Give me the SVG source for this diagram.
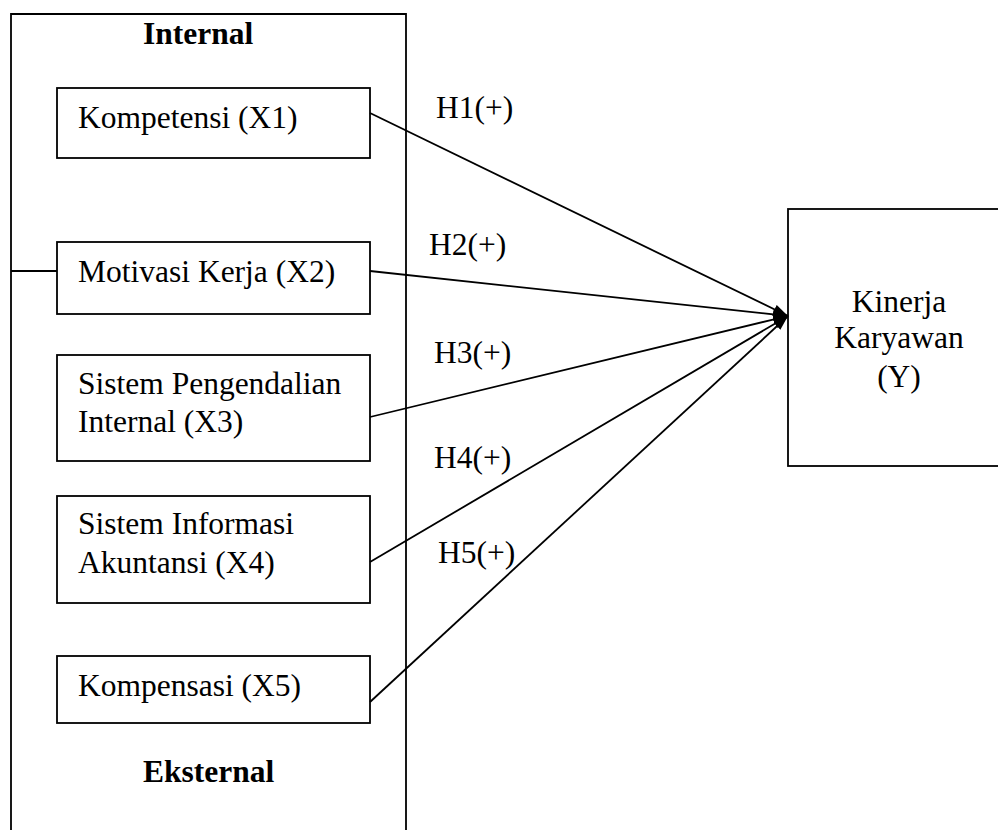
<svg xmlns="http://www.w3.org/2000/svg" width="998" height="830" viewBox="0 0 998 830">
<style>
  .box { fill: #fff; stroke: #000; stroke-width: 1.8; }
  .frame { fill: none; stroke: #000; stroke-width: 1.8; }
  .t { font-family: "Liberation Serif", "Times New Roman", serif; font-size: 31.5px; fill: #000; }
  .b { font-weight: bold; }
  .m { text-anchor: middle; }
  .c { fill: none; stroke: #000; stroke-width: 1.8; }
</style>
<defs>
  <marker id="ah" viewBox="0 0 15 10" refX="15" refY="5" markerWidth="15" markerHeight="10" markerUnits="userSpaceOnUse" orient="auto">
    <path d="M0,0 L15,5 L0,10 z" fill="#000"/>
  </marker>
</defs>
<rect width="998" height="830" fill="#fff"/>

<g id="outer">
  <path class="frame" d="M11,840 L11,14 L406,14 L406,840"/>
  <line class="c" x1="11" y1="271" x2="57" y2="271"/>
  <text class="t b" x="143" y="44">Internal</text>
  <text class="t b" x="143" y="782">Eksternal</text>
</g>

<g id="x1">
  <rect class="box" x="57" y="88" width="313" height="70"/>
  <text class="t" x="78" y="128">Kompetensi (X1)</text>
</g>
<g id="x2">
  <rect class="box" x="57" y="242" width="313" height="72"/>
  <text class="t" x="78" y="282">Motivasi Kerja (X2)</text>
</g>
<g id="x3">
  <rect class="box" x="57" y="355" width="313" height="106"/>
  <text class="t" x="78" y="394">Sistem Pengendalian</text>
  <text class="t" x="78" y="432">Internal (X3)</text>
</g>
<g id="x4">
  <rect class="box" x="57" y="496" width="313" height="107"/>
  <text class="t" x="78" y="534">Sistem Informasi</text>
  <text class="t" x="78" y="573">Akuntansi (X4)</text>
</g>
<g id="x5">
  <rect class="box" x="57" y="656" width="313" height="67"/>
  <text class="t" x="78" y="696">Kompensasi (X5)</text>
</g>

<g id="y">
  <rect class="box" x="788" y="209" width="220" height="257"/>
  <text class="t m" x="899" y="312">Kinerja</text>
  <text class="t m" x="899" y="348">Karyawan</text>
  <text class="t m" x="899" y="387">(Y)</text>
</g>

<g id="connectors">
  <line class="c" x1="370" y1="113" x2="788" y2="316" marker-end="url(#ah)"/>
  <line class="c" x1="370" y1="271" x2="788" y2="316" marker-end="url(#ah)"/>
  <line class="c" x1="370" y1="417" x2="788" y2="316" marker-end="url(#ah)"/>
  <line class="c" x1="370" y1="562" x2="788" y2="316" marker-end="url(#ah)"/>
  <line class="c" x1="370" y1="702" x2="788" y2="316" marker-end="url(#ah)"/>
  <text class="t" x="436" y="118">H1(+)</text>
  <text class="t" x="429" y="255">H2(+)</text>
  <text class="t" x="434" y="363">H3(+)</text>
  <text class="t" x="434" y="468">H4(+)</text>
  <text class="t" x="438" y="563">H5(+)</text>
</g>
</svg>
